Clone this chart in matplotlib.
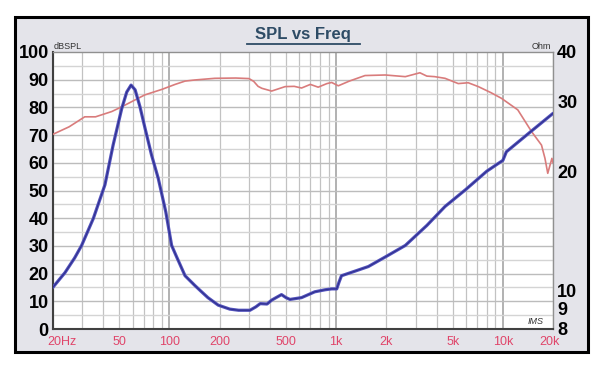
import matplotlib
matplotlib.use("Agg")
import matplotlib.pyplot as plt
import numpy as np
from matplotlib.patches import Rectangle
from matplotlib.lines import Line2D
from matplotlib.ticker import FixedLocator, NullFormatter, NullLocator
from matplotlib.transforms import ScaledTranslation

plt.rcParams["font.family"] = ["Liberation Sans", "DejaVu Sans"]

# SPL curve (left axis, dB)
spl_freq = [20, 25, 31, 36, 45, 52, 71, 90, 108, 124, 142, 187, 250, 300,
            320, 340, 358, 410, 494, 560, 620, 700, 780, 880, 940, 1030,
            1200, 1490, 1970, 2600, 3180, 3500, 3900, 4500, 5400, 6200, 7130,
            8500, 9800, 12300, 14900, 17060, 17900, 18600, 19700, 20000]
spl_db = [70.3, 73.0, 76.6, 76.6, 78.5, 80.3, 84.5, 86.5, 88.3, 89.5, 89.9,
          90.5, 90.6, 90.4, 89.4, 87.6, 86.9, 85.9, 87.5, 87.6, 87.0, 88.3,
          87.3, 88.6, 89.0, 87.8, 89.5, 91.5, 91.7, 91.1, 92.5, 91.3, 91.1,
          90.5, 88.6, 88.9, 87.5, 85.3, 83.3, 79.1, 71.2, 66.4, 61.6, 56.2,
          61.6, 60.0]

# impedance curve (right axis, Ohm)
imp_freq = [20, 23.6, 27, 29.7, 34.9, 41, 45.9, 51.7, 55.4, 58.8, 62.2, 66.5,
            71.3, 78, 85.6, 95, 103, 110, 124, 142, 155, 170, 196, 230, 260,
            304, 330, 350, 385, 410, 440, 470, 500, 528, 620, 744, 860, 940,
            1008, 1040, 1076, 1300, 1560, 2000, 2600, 3500, 4500, 6000, 8000,
            9500, 10000, 10500, 14900, 20000]
imp_ohm = [10.2, 11.1, 12.1, 13.0, 15.2, 18.5, 23.3, 28.8, 31.7, 33.0, 32.1,
           29.1, 25.7, 22.0, 19.2, 15.8, 13.0, 12.2, 10.9, 10.3, 9.95, 9.6,
           9.19, 8.98, 8.92, 8.92, 9.1, 9.27, 9.25, 9.46, 9.62, 9.77, 9.6, 9.5,
           9.6, 9.93, 10.05, 10.1, 10.1, 10.5, 10.9, 11.2, 11.5, 12.2, 13.0,
           14.6, 16.3, 18.0, 20.0, 21.0, 21.3, 22.4, 25.3, 28.0]

x_ticks = [20, 50, 100, 200, 500, 1000, 2000, 5000, 10000, 20000]
x_labels = ["20Hz", "50", "100", "200", "500", "1k", "2k", "5k", "10k", "20k"]
db_ticks = list(range(0, 101, 10))
ohm_ticks = [8, 9, 10, 20, 30, 40]

W, H = 600, 368
fig = plt.figure(figsize=(W / 100, H / 100), dpi=100)
fig.patch.set_facecolor("white")


def fx(px):
    return px / W


def fy(py):
    return 1 - py / H


# outer framed panel, kept behind the axes
panel = Rectangle((fx(15), fy(352)), fx(588) - fx(15), fy(17) - fy(352),
                  transform=fig.transFigure, facecolor="#e4e4ea",
                  edgecolor="black", linewidth=2.2, zorder=-10)
fig.patches.append(panel)

ax = fig.add_axes([fx(53), fy(329), fx(553) - fx(53), fy(52) - fy(329)])
ax.set_facecolor("white")
ax.set_xscale("log")
ax.set_xlim(20, 20000)
ax.set_ylim(0, 100)

# grid
minor_freqs = [m * 10 ** d for d in range(1, 5) for m in range(1, 10)
               if 20 <= m * 10 ** d <= 20000]
for f in minor_freqs:
    major = f in (100, 1000, 10000)
    ax.axvline(f, color="#9c9c9c" if major else "#c2c2c2",
               lw=1.1 if major else 0.9, zorder=0)
for v in range(5, 100, 5):
    ax.axhline(v, color="#bcbcbc" if v % 10 == 0 else "#d4d4d4",
               lw=1.0, zorder=0)

ax.plot(spl_freq, spl_db, color="#d97c7c", lw=1.2, zorder=3)

ax.xaxis.set_major_locator(FixedLocator(x_ticks))
ax.xaxis.set_minor_locator(NullLocator())
ax.xaxis.set_minor_formatter(NullFormatter())
ax.set_xticklabels(x_labels)
ax.tick_params(axis="x", length=0, pad=5, labelsize=9, labelcolor="#e0456a")
first = ax.get_xticklabels()[0]
first.set_horizontalalignment("left")
first.set_transform(first.get_transform() +
                    ScaledTranslation(-6 / 100, 0, fig.dpi_scale_trans))
last = ax.get_xticklabels()[-1]
last.set_transform(last.get_transform() +
                   ScaledTranslation(-3 / 100, 0, fig.dpi_scale_trans))

ax.set_yticks(db_ticks)
ax.tick_params(axis="y", length=0, pad=3, labelsize=13)
for lab in ax.get_yticklabels():
    lab.set_fontweight("bold")

for side in ("top", "right"):
    ax.spines[side].set_color("#909090")
    ax.spines[side].set_linewidth(1.0)
for side in ("left", "bottom"):
    ax.spines[side].set_color("#404040")
    ax.spines[side].set_linewidth(1.5)

ax2 = ax.twinx()
ax2.set_yscale("log")
ax2.set_ylim(8, 40)
ax2.plot(imp_freq, imp_ohm, color="#5252bc", lw=2.3, zorder=4,
         solid_joinstyle="round", solid_capstyle="round")
ax2.plot(imp_freq, imp_ohm, color="#30308e", lw=0.8, zorder=5,
         solid_joinstyle="round")
ax2.yaxis.set_major_locator(FixedLocator(ohm_ticks))
ax2.yaxis.set_minor_locator(NullLocator())
ax2.set_yticklabels([str(t) for t in ohm_ticks])
ax2.tick_params(axis="y", length=0, pad=3, labelsize=13)
for lab in ax2.get_yticklabels():
    lab.set_fontweight("bold")
for side in ax2.spines:
    ax2.spines[side].set_visible(False)

# title with underline
fig.text(fx(303), fy(34), "SPL vs Freq", ha="center", va="center",
         fontsize=12, fontweight="bold", color="#2e4c66")
fig.add_artist(Line2D([fx(247), fx(360)], [fy(44), fy(44)],
                      transform=fig.transFigure, color="#2e4c66", lw=1.3))

fig.text(fx(54), fy(51), "dBSPL", ha="left", va="bottom", fontsize=6.5,
         color="#333333")
fig.text(fx(551), fy(51), "Ohm", ha="right", va="bottom", fontsize=6.5,
         color="#333333")
fig.text(fx(536), fy(321), "IMS", ha="center", va="center", fontsize=6.5,
         style="italic", color="#333333")

fig.savefig("out.png", dpi=100, facecolor=fig.get_facecolor())
